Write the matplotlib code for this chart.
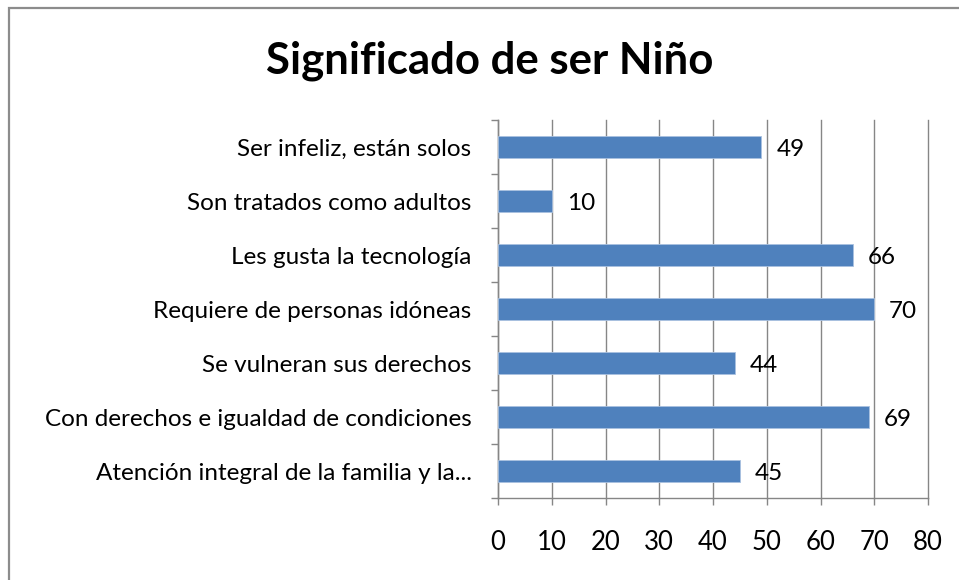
import matplotlib
matplotlib.use("Agg")
import matplotlib.pyplot as plt
from matplotlib.patches import Rectangle

categories = [
    "Ser infeliz, están solos",
    "Son tratados como adultos",
    "Les gusta la tecnología",
    "Requiere de personas idóneas",
    "Se vulneran sus derechos",
    "Con derechos e igualdad de condiciones",
    "Atención integral de la familia y la...",
]
values = [49, 10, 66, 70, 44, 69, 45]
xticks = [0, 10, 20, 30, 40, 50, 60, 70, 80]
title = "Significado de ser Niño"

plt.rcParams['font.family'] = ['Lato', 'DejaVu Sans']

W, H = 959, 580
fig = plt.figure(figsize=(W / 100, H / 100), dpi=100)
fig.patch.set_facecolor("white")

# outer frame
fig.patches.append(Rectangle((9 / W, -0.05), 1.2, 1 - 8 / H + 0.05,
                             transform=fig.transFigure, fill=False,
                             edgecolor="#8c8c8c", linewidth=1.6))

ax = fig.add_axes([498 / W, 1 - 498 / H, (928 - 498) / W, (498 - 120) / H])
ypos = list(range(len(categories)))
ax.barh(ypos, values, height=0.4, color="#4F81BD", edgecolor="#a9c1e0",
        linewidth=0.6, zorder=3)
ax.set_ylim(len(categories) - 0.5, -0.5)
ax.set_xlim(0, 80)
ax.set_xticks(xticks)
ax.set_xticklabels([str(t) for t in xticks], fontsize=18.5)
ax.set_yticks(ypos)
ax.set_yticklabels(categories, fontsize=17.5)
ax.set_yticks([i - 0.5 for i in range(len(categories) + 1)], minor=True)
ax.tick_params(axis="y", which="major", length=0, pad=19)
ax.tick_params(axis="y", which="minor", length=5, color="#868686", width=1)
ax.tick_params(axis="x", length=5, color="#868686", width=1, pad=18)
ax.grid(axis="x", color="#868686", linewidth=1, zorder=0)
for gl in ax.get_xgridlines():
    gl.set_clip_on(False)
for s in ["top", "right"]:
    ax.spines[s].set_visible(False)
for s in ["left", "bottom"]:
    ax.spines[s].set_color("#868686")
    ax.spines[s].set_linewidth(1)

for y, v in zip(ypos, values):
    ax.annotate(str(v), (v, y), xytext=(15, -2), textcoords="offset pixels",
                va="center", ha="left", fontsize=17.5, zorder=4)

fig.text(490 / W, 1 - 61 / H, title, ha="center", va="center",
         fontsize=31.5, fontweight="bold")

fig.savefig("out.png", dpi=100)
